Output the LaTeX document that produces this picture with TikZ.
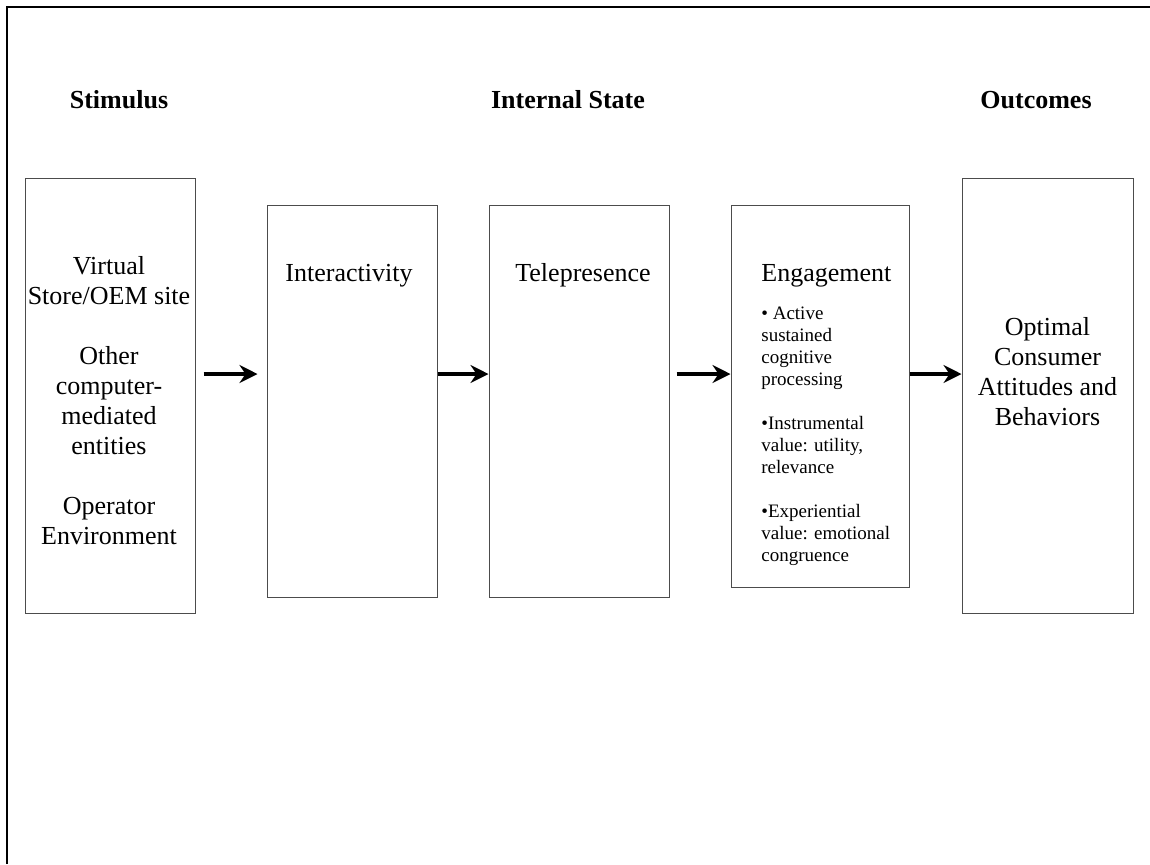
\documentclass[tikz,border=0pt]{standalone}
\usepackage{fontspec}
\setmainfont{Liberation Serif}
\usetikzlibrary{arrows.meta, positioning}

\begin{document}
\begin{tikzpicture}[x=0.5pt, y=-0.5pt,
  box/.style={draw=black!70, line width=0.5pt, inner sep=0pt},
  lbl/.style={inner sep=0pt, align=center, font=\fontsize{13}{15}\selectfont},
  pts/.style={inner sep=0pt, align=left, font=\fontsize{9.5}{11}\selectfont},
  head/.style={inner sep=0pt, anchor=base, font=\fontsize{13}{15}\selectfont\bfseries},
  arr/.style={line width=2pt, -{Stealth[length=9pt, width=9pt, inset=3pt]}}]
\useasboundingbox (0,0) rectangle (1150,864);
\draw[line width=1pt] (7,864) -- (7,7) -- (1150,7);
%
\node[head] (hstim) at (119,108) {Stimulus};
\node[head] (hstate) at (568,108) {Internal State};
\node[head] (hout) at (1036,108) {Outcomes};
%
\node[box, minimum width=85pt, minimum height=217.5pt] (stim) at (110,395.5) {};
\node[box, minimum width=85pt, minimum height=196pt] (inter) at (352,401) {};
\node[box, minimum width=90pt, minimum height=196pt] (tele) at (579,401) {};
\node[box, minimum width=89pt, minimum height=191pt] (eng) at (820,396) {};
\node[box, minimum width=85.5pt, minimum height=217.5pt] (outc) at (1047.5,395.5) {};
%
\node[lbl, anchor=north] (stimtxt) at (109,256)
  {Virtual\\Store/OEM site\\[15pt]Other\\computer-\\mediated\\entities\\[15pt]Operator\\Environment};
\node[lbl, anchor=base] (intertxt) at (349,281) {Interactivity};
\node[lbl, anchor=base] (teletxt) at (583,281) {Telepresence};
\node[lbl, anchor=base west] (engtxt) at (761,281) {Engagement};
\node[pts, anchor=north west] (engpts) at (761,307)
  {• Active\\sustained\\cognitive\\processing\\[11pt]•Instrumental\\value: utility,\\relevance\\[11pt]•Experiential\\value: emotional\\congruence};
\node[lbl, anchor=north] (outtxt) at (1047.5,317) {Optimal\\Consumer\\Attitudes and\\Behaviors};
%
\coordinate (row) at (0,374);
\draw[arr, shorten <=4pt, shorten >=4.5pt] (stim.east |- row) -- (inter.west |- row);
\draw[arr] (inter.east |- row) -- (tele.west |- row);
\draw[arr, shorten <=3.5pt] (tele.east |- row) -- (eng.west |- row);
\draw[arr] (eng.east |- row) -- (outc.west |- row);
%
\end{tikzpicture}
\end{document}
